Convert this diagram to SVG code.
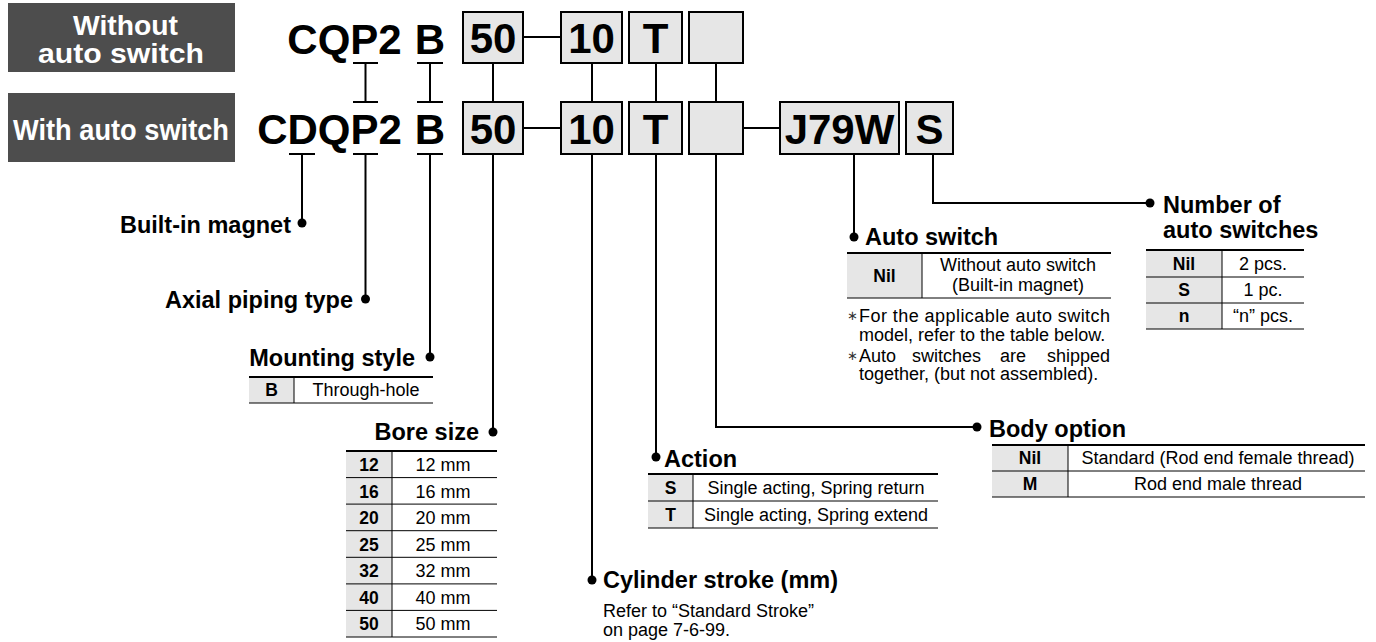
<svg xmlns="http://www.w3.org/2000/svg" width="1376" height="642" viewBox="0 0 1376 642">
<style>
text{font-family:"Liberation Sans",Arial,sans-serif;fill:#000}
.hdr{font-size:30px;font-weight:bold;fill:#fff;text-anchor:middle}
.hdr2{font-size:27px;font-weight:bold;fill:#fff;text-anchor:middle}
.code{font-size:42px;font-weight:bold;text-anchor:middle}
.ttl{font-size:23.5px;font-weight:bold}
.end{text-anchor:end}
.t{font-size:18px}
.c{text-anchor:middle}
.k{font-size:17.5px;font-weight:bold;text-anchor:middle}
.box{fill:#e6e6e6;stroke:#000;stroke-width:2}
.ln{fill:none;stroke:#000;stroke-width:2}
.top{stroke:#000;stroke-width:2.2}
.rl{stroke:#000;stroke-width:1}
.key{fill:#e6e6e6}
.ast{font-size:13px;fill:#333}
</style>
<g id="header-without">
<rect x="8" y="3" width="227" height="69" fill="#4d4d4d"/>
<text class="hdr2" x="125.5" y="35" textLength="105" lengthAdjust="spacingAndGlyphs">Without</text>
<text class="hdr2" x="121" y="63" textLength="166" lengthAdjust="spacingAndGlyphs">auto switch</text>
</g>
<g id="header-with">
<rect x="8" y="93" width="227" height="69" fill="#4d4d4d"/>
<text class="hdr" x="121" y="140" textLength="216" lengthAdjust="spacingAndGlyphs">With auto switch</text>
</g>
<g id="code-row1">
<text class="code" x="344.5" y="54">CQP2</text>
<text class="code" x="430" y="54">B</text>
<rect class="box" x="463" y="12" width="60" height="51"/><text class="code" x="493" y="53">50</text>
<rect class="box" x="561" y="12" width="61" height="51"/><text class="code" x="591.5" y="53">10</text>
<rect class="box" x="629" y="12" width="53" height="51"/><text class="code" x="655.5" y="53">T</text>
<rect class="box" x="689" y="12" width="54" height="51"/>
</g>
<g id="code-row2">
<text class="code" x="329.5" y="144">CDQP2</text>
<text class="code" x="430" y="144">B</text>
<rect class="box" x="463" y="102" width="60" height="52"/><text class="code" x="493" y="144">50</text>
<rect class="box" x="561" y="102" width="61" height="52"/><text class="code" x="591.5" y="144">10</text>
<rect class="box" x="629" y="102" width="53" height="52"/><text class="code" x="655.5" y="144">T</text>
<rect class="box" x="689" y="102" width="54" height="52"/>
<rect class="box" x="780" y="102" width="119" height="52"/><text class="code" x="839.5" y="144">J79W</text>
<rect class="box" x="906" y="102" width="47" height="52"/><text class="code" x="929.5" y="144">S</text>
</g>
<g id="connectors" class="ln">
<path d="M353 63H378M365.5 63V102M353 102H378"/>
<path d="M417 63H443M430 63V102M417 102H443"/>
<path d="M493 63V102M592 63V102M656 63V102M716 63V102"/>
<path d="M523 37H561M523 128H561M743 128H780"/>
<path d="M289 154H315M302 154V223"/>
<path d="M353 154H378M365.5 154V299"/>
<path d="M417 154H443M430 154V357"/>
<path d="M493 154V432"/>
<path d="M592 154V580"/>
<path d="M656 154V457"/>
<path d="M716 154V427H977"/>
<path d="M854 154V237"/>
<path d="M933 154V203H1150"/>
<g fill="#000" stroke="none">
<circle cx="302" cy="223" r="4.5"/>
<circle cx="365.5" cy="299" r="4.5"/>
<circle cx="430" cy="357" r="4.5"/>
<circle cx="493" cy="432" r="4.5"/>
<circle cx="592" cy="580" r="4.5"/>
<circle cx="656" cy="457" r="4.5"/>
<circle cx="977" cy="427" r="4.5"/>
<circle cx="854" cy="237" r="4.5"/>
<circle cx="1150" cy="203" r="4.5"/>
</g>
</g>
<g id="built-in-magnet">
<text class="ttl end" x="291" y="233">Built-in magnet</text>
</g>
<g id="axial-piping">
<text class="ttl end" x="353" y="308">Axial piping type</text>
</g>
<g id="mounting-style">
<text class="ttl end" x="415" y="366">Mounting style</text>
<rect class="key" x="249" y="377" width="45" height="26"/>
<line class="top" x1="249" y1="377" x2="433" y2="377"/>
<line class="rl" x1="249" y1="403" x2="433" y2="403"/>
<line class="rl" x1="294" y1="377" x2="294" y2="403"/>
<text class="k" x="271.5" y="396">B</text>
<text class="t c" x="366" y="396">Through-hole</text>
</g>
<g id="bore-size">
<text class="ttl end" x="479" y="440">Bore size</text>
<rect class="key" x="346" y="451" width="46" height="186"/>
<line class="top" x1="346" y1="451" x2="497" y2="451"/>
<g class="rl">
<line x1="346" y1="477.6" x2="497" y2="477.6"/>
<line x1="346" y1="504.1" x2="497" y2="504.1"/>
<line x1="346" y1="530.7" x2="497" y2="530.7"/>
<line x1="346" y1="557.3" x2="497" y2="557.3"/>
<line x1="346" y1="583.9" x2="497" y2="583.9"/>
<line x1="346" y1="610.4" x2="497" y2="610.4"/>
<line x1="346" y1="637" x2="497" y2="637"/>
<line x1="392" y1="451" x2="392" y2="637"/>
</g>
<text class="k" x="369" y="471">12</text><text class="t c" x="443" y="471">12 mm</text>
<text class="k" x="369" y="497.6">16</text><text class="t c" x="443" y="497.6">16 mm</text>
<text class="k" x="369" y="524.1">20</text><text class="t c" x="443" y="524.1">20 mm</text>
<text class="k" x="369" y="550.7">25</text><text class="t c" x="443" y="550.7">25 mm</text>
<text class="k" x="369" y="577.3">32</text><text class="t c" x="443" y="577.3">32 mm</text>
<text class="k" x="369" y="603.9">40</text><text class="t c" x="443" y="603.9">40 mm</text>
<text class="k" x="369" y="630.4">50</text><text class="t c" x="443" y="630.4">50 mm</text>
</g>
<g id="cylinder-stroke">
<text class="ttl" x="603" y="588">Cylinder stroke (mm)</text>
<text class="t" x="603" y="617">Refer to “Standard Stroke”</text>
<text class="t" x="603" y="636">on page 7-6-99.</text>
</g>
<g id="action">
<text class="ttl" x="664" y="467">Action</text>
<rect class="key" x="648" y="474" width="45" height="54"/>
<line class="top" x1="648" y1="474" x2="938" y2="474"/>
<line class="rl" x1="648" y1="501" x2="938" y2="501"/>
<line class="rl" x1="648" y1="528" x2="938" y2="528"/>
<line class="rl" x1="693" y1="474" x2="693" y2="528"/>
<text class="k" x="670.5" y="494">S</text>
<text class="t c" x="816" y="494">Single acting, Spring return</text>
<text class="k" x="670.5" y="521">T</text>
<text class="t c" x="816" y="521">Single acting, Spring extend</text>
</g>
<g id="body-option">
<text class="ttl" x="989" y="437">Body option</text>
<rect class="key" x="992" y="445" width="76" height="52"/>
<line class="top" x1="992" y1="445" x2="1365" y2="445"/>
<line class="rl" x1="992" y1="471" x2="1365" y2="471"/>
<line class="rl" x1="992" y1="497" x2="1365" y2="497"/>
<line class="rl" x1="1068" y1="445" x2="1068" y2="497"/>
<text class="k" x="1030" y="464">Nil</text>
<text class="t c" x="1218" y="464">Standard (Rod end female thread)</text>
<text class="k" x="1030" y="490">M</text>
<text class="t c" x="1218" y="490">Rod end male thread</text>
</g>
<g id="auto-switch">
<text class="ttl" x="865" y="245">Auto switch</text>
<rect class="key" x="847" y="253" width="75" height="45"/>
<line class="top" x1="847" y1="253" x2="1111" y2="253"/>
<line class="rl" x1="847" y1="298" x2="1111" y2="298"/>
<line class="rl" x1="922" y1="253" x2="922" y2="298"/>
<text class="k" x="884.5" y="282">Nil</text>
<text class="t c" x="1018" y="271">Without auto switch</text>
<text class="t c" x="1018" y="291">(Built-in magnet)</text>
<text class="ast" x="847" y="320">∗</text>
<text class="t" x="859" y="322" textLength="251" lengthAdjust="spacing">For the applicable auto switch</text>
<text class="t" x="859" y="341">model, refer to the table below.</text>
<text class="ast" x="847" y="360">∗</text>
<text class="t" x="859" y="362">Auto</text>
<text class="t" x="912" y="362">switches</text>
<text class="t" x="1000" y="362">are</text>
<text class="t" x="1110" y="362" text-anchor="end">shipped</text>
<text class="t" x="859" y="380">together, (but not assembled).</text>
</g>
<g id="number-of-switches">
<text class="ttl" x="1163" y="213">Number of</text>
<text class="ttl" x="1163" y="238">auto switches</text>
<rect class="key" x="1146" y="250" width="76" height="79"/>
<line class="top" x1="1146" y1="250" x2="1304" y2="250"/>
<line class="rl" x1="1146" y1="277" x2="1304" y2="277"/>
<line class="rl" x1="1146" y1="303" x2="1304" y2="303"/>
<line class="rl" x1="1146" y1="329" x2="1304" y2="329"/>
<line class="rl" x1="1222" y1="250" x2="1222" y2="329"/>
<text class="k" x="1184" y="270">Nil</text><text class="t c" x="1263" y="270">2 pcs.</text>
<text class="k" x="1184" y="296">S</text><text class="t c" x="1263" y="296">1 pc.</text>
<text class="k" x="1184" y="322">n</text><text class="t c" x="1263" y="322">“n” pcs.</text>
</g>
</svg>
